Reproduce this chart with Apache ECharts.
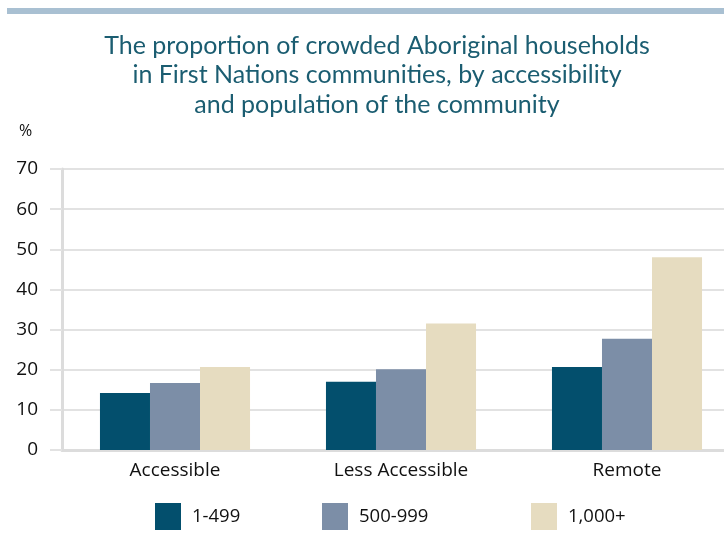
<!DOCTYPE html>
<html><head><meta charset="utf-8">
<script src="https://cdn.jsdelivr.net/npm/echarts@6/dist/echarts.min.js"></script>
<style>html,body{margin:0;padding:0;background:#fff}#c{width:724px;height:554px}</style>
</head><body><div id="c"></div>
<script>
const categories = ['Accessible', 'Less Accessible', 'Remote'];
const seriesNames = ['1-499', '500-999', '1,000+'];
const values1to499 = [14.2, 17.0, 20.7];
const values500to999 = [16.7, 20.1, 27.7];
const values1000plus = [20.7, 31.5, 48.0];
const yTicks = [0, 10, 20, 30, 40, 50, 60, 70];

const colors = ['#034f6d', '#7c8ea7', '#e6dcc0'];
const labelFont = '"Open Sans", "Noto Sans", sans-serif';
const chart = echarts.init(document.getElementById('c'));
const legendPos = [155, 322, 531];
chart.setOption({
  animation: false,
  graphic: [{ type: 'rect', shape: { x: 7, y: 8, width: 717, height: 6 }, style: { fill: '#a9c0d2' } }],
  title: {
    text: 'The proportion of crowded Aboriginal households\nin First Nations communities, by accessibility\nand population of the community',
    left: 372, top: 26, textAlign: 'center',
    textStyle: { fontFamily: 'Lato, sans-serif', fontWeight: 'normal', fontSize: 25, lineHeight: 29.5, color: '#1b5d71' }
  },
  legend: seriesNames.map((n, i) => ({
    data: [n], left: legendPos[i], top: 503, padding: 0, itemWidth: 26, itemHeight: 27, itemGap: 0,
    icon: 'rect', textStyle: { fontFamily: labelFont, fontSize: 18.5, color: '#111', padding: [0, 0, 0, 6] }
  })),
  grid: { left: 62, width: 678, top: 169, bottom: 104, containLabel: false, outerBoundsMode: 'none' },
  xAxis: {
    type: 'category', data: categories,
    axisLine: { lineStyle: { color: '#dcdcdc', width: 3 } },
    axisTick: { show: false },
    axisLabel: { fontFamily: labelFont, fontSize: 19, color: '#111', margin: 11 }
  },
  yAxis: {
    type: 'value', min: yTicks[0], max: yTicks[yTicks.length - 1], interval: 10,
    name: '%', nameLocation: 'end', nameGap: 0,
    nameTextStyle: { fontFamily: labelFont, fontSize: 16, color: '#111', align: 'left', padding: [0, 0, 30, -43] },
    axisLine: { show: true, lineStyle: { color: '#dcdcdc', width: 3 } },
    axisTick: { show: true, length: 12, lineStyle: { color: '#e2e2e2', width: 2 } },
    splitLine: { lineStyle: { color: '#e2e2e2', width: 2 } },
    axisLabel: { fontFamily: labelFont, fontSize: 19, color: '#111', margin: 24 }
  },
  series: [
    { name: seriesNames[0], type: 'bar', data: values1to499, itemStyle: { color: colors[0] }, barGap: '0%', barCategoryGap: '33.6%' },
    { name: seriesNames[1], type: 'bar', data: values500to999, itemStyle: { color: colors[1] } },
    { name: seriesNames[2], type: 'bar', data: values1000plus, itemStyle: { color: colors[2] } }
  ]
});
</script></body></html>
